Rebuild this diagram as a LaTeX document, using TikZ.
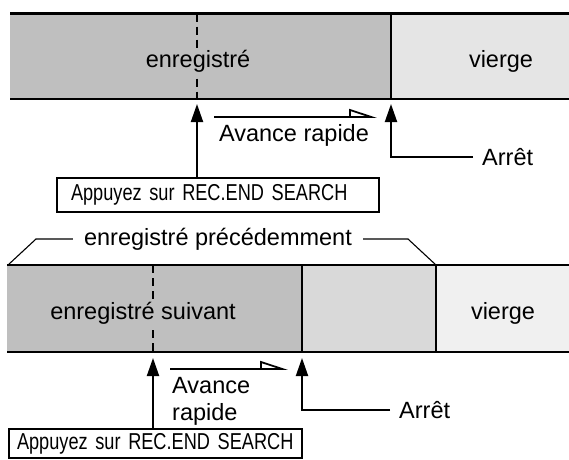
\documentclass[tikz,border=0pt]{standalone}
\usepackage{fontspec}
\setmainfont{Liberation Sans}
\newfontfamily\narrowfont[FakeStretch=0.79]{Liberation Sans}
\usetikzlibrary{arrows.meta,positioning}
\definecolor{recgray}{RGB}{191,191,191}
\definecolor{midgray}{RGB}{217,217,217}
\definecolor{blanklight}{RGB}{229,229,229}
\definecolor{blankpale}{RGB}{240,240,240}

\begin{document}
\begin{tikzpicture}[
  x=1pt, y=-1pt,
  font=\fontsize{23.5}{27}\selectfont,
  edge/.style={line width=2.6pt},
  marker/.style={line width=2pt, dash pattern=on 8pt off 5pt},
  arr/.style={-{Triangle[length=18pt,width=12pt]}, line width=2pt},
  ffarr/.style={-{Triangle[open,left,length=25pt,width=16pt]}, line width=1.8pt},
  btn/.style={draw, line width=1.8pt, inner ysep=0pt, align=left,
    font=\narrowfont\fontsize{23}{26}\selectfont},
  lbl/.style={inner sep=2pt},
  brace/.style={line width=1.1pt}
]
\useasboundingbox (0,0) rectangle (569,459);

% top tape
\fill[recgray] (10,13.5) rectangle (391,99);
\fill[blanklight] (391,13.5) rectangle (569,99);
\draw[marker] (197,13.5) -- (197,99);
\draw[edge] (10,13.5) -- (569,13.5);
\draw[edge] (10,99) -- (569,99);
\draw[edge] (391,13.5) -- (391,99);
\node[lbl, fill=recgray] (rec1) at (198,61) {enregistré};
\node[lbl] (blank1) at (501,61) {vierge};

\coordinate (start1) at (197,104);
\coordinate (stop1) at (391,104);
\coordinate (ffa1) at (214,117);
\coordinate (ffb1) at (377,117);
\node[btn, text width=294pt, inner xsep=14pt, minimum height=34pt] (push1) at (218,195) {Appuyez sur REC.END SEARCH};
\draw[arr] (push1.north -| start1) -- (start1);
\draw[ffarr] (ffa1) -- (ffb1);
\node[lbl] (fwd1) at (294,135) {Avance rapide};
\node[lbl, anchor=west, inner xsep=9pt] (halt1) at (473,157) {Arrêt};
\draw[arr] (halt1.west) -| (stop1);

% bottom tape
\node[lbl, inner xsep=11pt] (prev) at (218,239) {enregistré précédemment};
\draw[brace] (prev.west) -- (36,239) -- (8,265);
\draw[brace] (prev.east) -- (408,239) -- (436,265);
\fill[recgray] (7,265) rectangle (302,352);
\fill[midgray] (302,265) rectangle (436,352);
\fill[blankpale] (436,265) rectangle (569,352);
\draw[marker] (153,265) -- (153,352);
\draw[edge] (7,265) -- (569,265);
\draw[edge] (7,352) -- (569,352);
\draw[edge] (302,265) -- (302,352);
\draw[edge] (436,265) -- (436,352);
\node[lbl, fill=recgray] (rec2) at (143,313) {enregistré suivant};
\node[lbl] (blank2) at (503,313) {vierge};

\coordinate (start2) at (153,358);
\coordinate (stop2) at (302,358);
\coordinate (ffa2) at (170,369);
\coordinate (ffb2) at (288,369);
\node[btn, text width=277pt, inner xsep=8pt, minimum height=29pt] (push2) at (155.5,443.5) {Appuyez sur REC.END SEARCH};
\draw[arr] (push2.north -| start2) -- (start2);
\draw[ffarr] (ffa2) -- (ffb2);
\node[lbl, anchor=west, inner sep=0pt, align=left] (fwd2) at (172,401.5) {Avance\\rapide};
\node[lbl, anchor=west, inner xsep=9pt] (halt2) at (390,410) {Arrêt};
\draw[arr] (halt2.west) -| (stop2);
\end{tikzpicture}
\end{document}
